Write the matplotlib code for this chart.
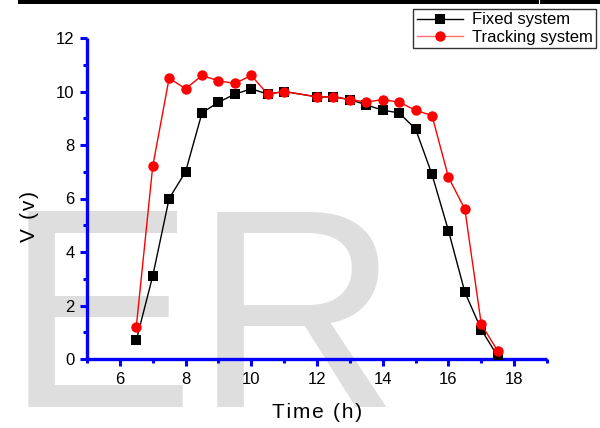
import matplotlib
matplotlib.use('Agg')
import matplotlib.pyplot as plt
from matplotlib.patches import Rectangle
from matplotlib.lines import Line2D

plt.rcParams['font.family'] = ['Liberation Sans', 'DejaVu Sans']

# data
t_fixed = [6.5, 7, 7.5, 8, 8.5, 9, 9.5, 10, 10.5, 11, 12, 12.5, 13, 13.5, 14, 14.5, 15, 15.5, 16, 16.5, 17, 17.5]
v_fixed = [0.7, 3.1, 6.0, 7.0, 9.2, 9.6, 9.9, 10.1, 9.9, 10.0, 9.8, 9.8, 9.7, 9.5, 9.3, 9.2, 8.6, 6.9, 4.8, 2.5, 1.1, 0.1]
t_track = [6.5, 7, 7.5, 8, 8.5, 9, 9.5, 10, 10.5, 11, 12, 12.5, 13, 13.5, 14, 14.5, 15, 15.5, 16, 16.5, 17, 17.5]
v_track = [1.2, 7.2, 10.5, 10.1, 10.6, 10.4, 10.3, 10.6, 9.9, 10.0, 9.8, 9.8, 9.7, 9.6, 9.7, 9.6, 9.3, 9.1, 6.8, 5.6, 1.3, 0.3]
labels = ['Fixed system', 'Tracking system']
xlab = 'Time (h)'
ylab = 'V (v)'

def spaced(s):
    # wide letter spacing like the original
    return '\u200a'.join(s)

fig = plt.figure(figsize=(6, 4.28), dpi=100)

# faint watermark behind everything
fig.text(0.007, 0.049, 'ER', fontsize=205, color='#dedede', ha='left', va='baseline', zorder=-5)

# black header bar at the top
fig.patches.append(Rectangle((18/600, 1-4/428), 582/600, 4/428, transform=fig.transFigure,
                             facecolor='black', edgecolor='none', zorder=1))
fig.lines.append(Line2D([539/600, 539/600], [1-7/428, 1], transform=fig.transFigure, color='white', lw=0.8, zorder=2))

ax = fig.add_axes([87/600, 1-359/428, 460/600, 321/428])
ax.set_zorder(1)
ax.patch.set_alpha(0)
ax.plot(t_fixed, v_fixed, color='black', lw=1, marker='s', ms=6.5, mec='black', mfc='black', mew=0,
        label=labels[0], zorder=3)
ax.plot(t_track, v_track, color='red', lw=1, marker='o', ms=7.5, mec='red', mfc='red', mew=0,
        label=labels[1], zorder=4)

ax.set_xlim(5, 19)
ax.set_ylim(0, 12)
ax.set_xticks([6, 8, 10, 12, 14, 16, 18])
ax.set_xticks([5, 7, 9, 11, 13, 15, 17, 19], minor=True)
ax.set_yticks([0, 2, 4, 6, 8, 10, 12])
ax.set_yticks([1, 3, 5, 7, 9, 11], minor=True)

for s in ['top', 'right']:
    ax.spines[s].set_visible(False)
for s in ['left', 'bottom']:
    ax.spines[s].set_color('blue')
    ax.spines[s].set_linewidth(2.4)
    ax.spines[s].set_capstyle('butt')
ax.tick_params(which='major', direction='out', length=5, width=2.2, color='blue', labelsize=12, pad=4)
ax.tick_params(which='minor', direction='out', length=3, width=2.2, color='blue')

ax.set_xlabel(spaced(xlab), fontsize=15, va='center')
ax.set_ylabel(spaced(ylab), fontsize=15, va='center')
ax.xaxis.set_label_coords(0.5, -0.168)
ax.yaxis.set_label_coords(-0.126, 0.445)

leg = ax.legend(loc='upper right', bbox_to_anchor=(596/600, 1-9/428), bbox_transform=fig.transFigure,
                fontsize=12, frameon=True, fancybox=False, edgecolor='black', borderpad=0.2,
                handlelength=2.8, handletextpad=0.5, labelspacing=0.15, borderaxespad=0)
leg.get_frame().set_linewidth(1)
leg.get_lines()[1].set_color('#ff7070')

fig.savefig('out.png', dpi=100)
